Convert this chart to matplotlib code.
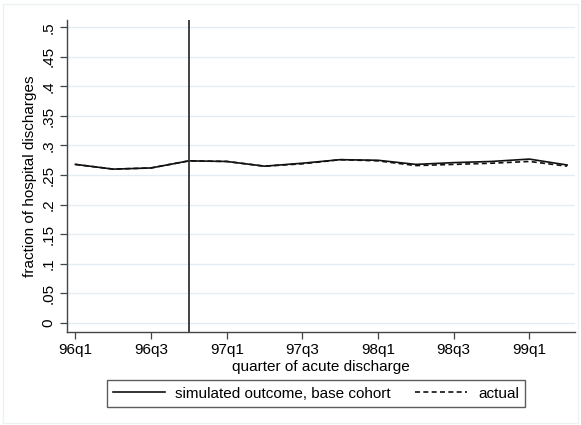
import numpy as np
import matplotlib
matplotlib.use('Agg')
import matplotlib.pyplot as plt

# quarters 96q1 .. 99q2
quarters = ['96q1', '96q2', '96q3', '96q4', '97q1', '97q2', '97q3',
            '97q4', '98q1', '98q2', '98q3', '98q4', '99q1', '99q2']
simulated = [0.268, 0.260, 0.262, 0.274, 0.273, 0.265, 0.270,
             0.276, 0.275, 0.268, 0.271, 0.273, 0.277, 0.267]
actual = [0.268, 0.260, 0.262, 0.274, 0.273, 0.265, 0.269,
          0.276, 0.274, 0.266, 0.268, 0.270, 0.273, 0.265]
tick_labels = ['96q1', '96q3', '97q1', '97q3', '98q1', '98q3', '99q1']
yticks = [0, .05, .1, .15, .2, .25, .3, .35, .4, .45, .5]
ytick_labels = ['0', '.05', '.1', '.15', '.2', '.25', '.3', '.35', '.4', '.45', '.5']
policy_quarter = '96q4'

plt.rcParams['font.family'] = ['Liberation Sans', 'DejaVu Sans']
plt.rcParams['font.size'] = 11

fig = plt.figure(figsize=(5.81, 4.25), dpi=100)
fig.patch.set_facecolor('white')
fig.add_artist(plt.Rectangle((0.005, 0.005), 0.99, 0.985, transform=fig.transFigure,
                             fill=False, edgecolor='#eef1f3', linewidth=1.0))
ax = fig.add_axes([0.1148, 0.2195, 0.875, 0.7334])

x = np.arange(len(quarters))
ax.plot(x, simulated, color='#111111', lw=1.2, label='simulated outcome, base cohort')
ax.plot(x, actual, color='#111111', lw=1.2, ls=(0, (3, 2)), label='actual')
ax.axvline(quarters.index(policy_quarter), color='#333333', lw=1.3)

ax.set_xlim(-0.23, len(quarters) - 1 + 0.21)
ax.set_ylim(-0.0152, 0.5124)
ax.set_xticks([quarters.index(t) for t in tick_labels])
ax.set_xticklabels(tick_labels)
ax.set_yticks(yticks)
ax.set_yticklabels(ytick_labels, rotation=90, va='center')
ax.grid(axis='y', color='#e3edf2', lw=1.0)
ax.set_axisbelow(True)

for s in ['top', 'right']:
    ax.spines[s].set_visible(False)
for s in ['left', 'bottom']:
    ax.spines[s].set_color('#444444')
    ax.spines[s].set_linewidth(1.0)
ax.tick_params(direction='out', length=5, width=0.9, color='#444444', pad=3)

ax.set_xlabel('quarter of acute discharge', labelpad=2)
ax.set_ylabel('fraction of hospital discharges', labelpad=3)

leg = ax.legend(loc='upper center', bbox_to_anchor=(0.49, -0.132), ncol=2,
                frameon=True, fancybox=False, handlelength=3.4, columnspacing=1.6,
                borderpad=0.4, handletextpad=0.7)
leg.get_frame().set_edgecolor('#333333')
leg.get_frame().set_linewidth(1.0)

fig.savefig('out.png', dpi=100, facecolor='white')
